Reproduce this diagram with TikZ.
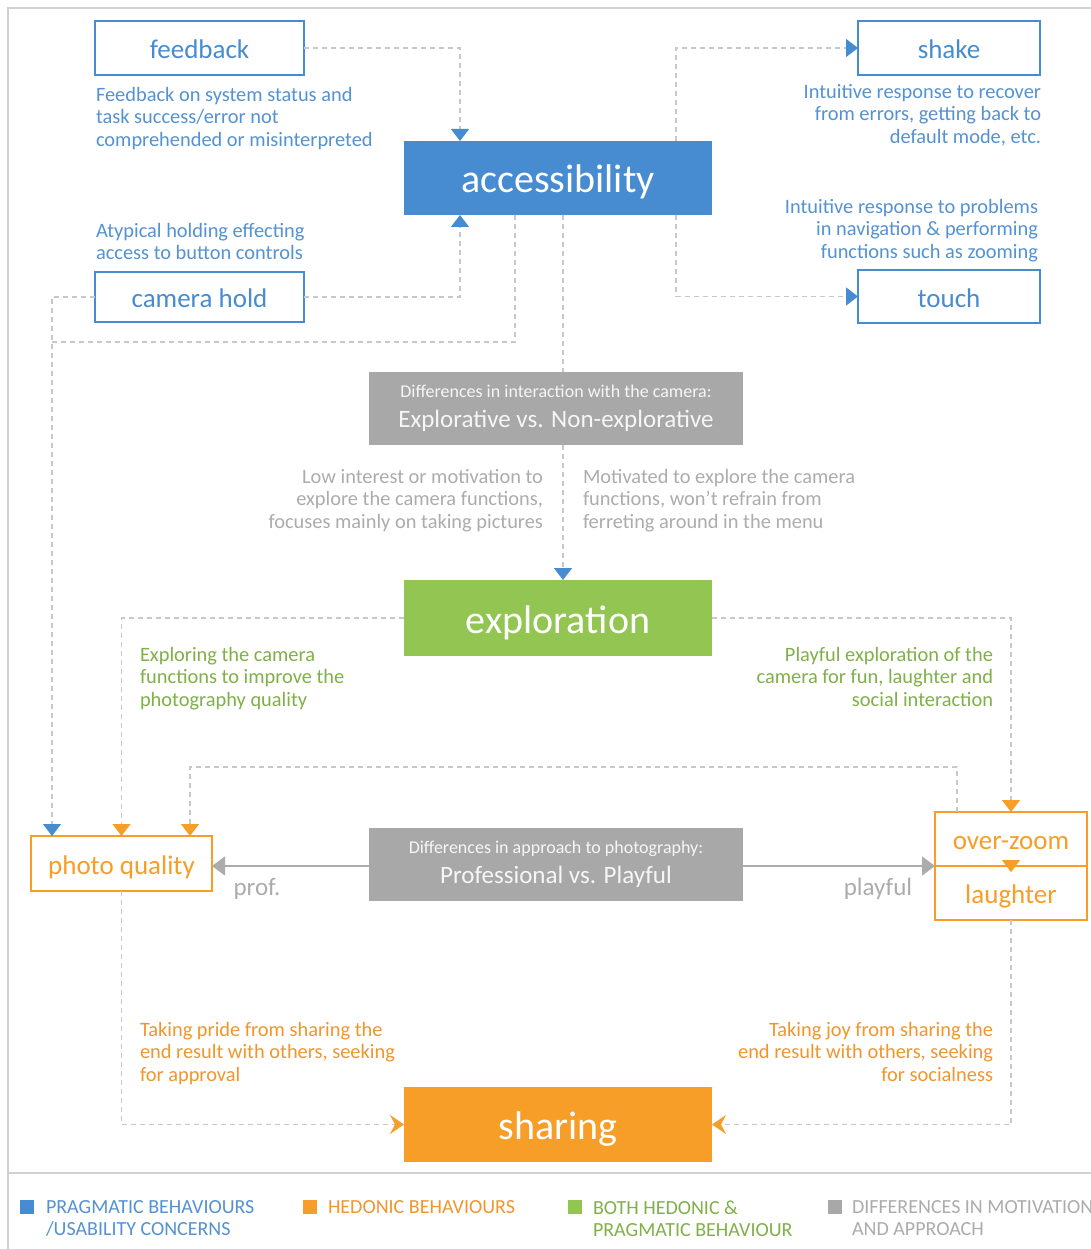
\documentclass[tikz,border=0pt]{standalone}
\usepackage{fontspec}
\setmainfont{Carlito}
\usetikzlibrary{arrows.meta,calc}

\definecolor{blueC}{RGB}{71,140,208}
\definecolor{blueT}{RGB}{84,146,210}
\definecolor{greenC}{RGB}{146,197,81}
\definecolor{greenT}{RGB}{128,176,72}
\definecolor{orangeC}{RGB}{246,158,40}
\definecolor{orangeT}{RGB}{240,150,45}
\definecolor{grayBox}{RGB}{168,168,168}
\definecolor{grayT}{RGB}{172,172,172}
\definecolor{dashC}{RGB}{200,200,200}
\definecolor{frameC}{RGB}{208,208,208}
\definecolor{boxText}{RGB}{246,246,246}

\begin{document}
\begin{tikzpicture}[x=1pt,y=-1pt,
  every node/.style={inner sep=0pt, outer sep=0pt},
  outlinebox/.style={draw=#1, line width=2pt, fill=white, text=#1,
    text height=21pt, text depth=0pt, font=\fontsize{27}{30}\selectfont},
  solidbox/.style={fill=#1, text=white, text height=32pt, text depth=2pt,
    font=\fontsize{40}{44}\selectfont},
  diffbox/.style={fill=grayBox, text=boxText, align=center,
    minimum width=374pt, minimum height=73pt, font=\fontsize{25}{30}\selectfont},
  desc/.style={text=#1, font=\fontsize{20.4}{22.5}\selectfont},
  legend/.style={text=#1, align=left, anchor=north west, font=\fontsize{20}{22}\selectfont},
  swatch/.style={fill=#1, minimum width=14pt, minimum height=14pt},
  dl/.style={draw=dashC, line width=1.3pt, dash pattern=on 5pt off 4pt},
  btip/.style={-{Triangle[width=18pt,length=12pt,color=blueC]}},
  otip/.style={-{Triangle[width=18pt,length=12pt,color=orangeC]}},
  stip/.style={-{Stealth[width=19pt,length=14pt,inset=5pt,color=orangeC]}},
  gline/.style={draw=grayT, line width=1.5pt, -{Triangle[width=19pt,length=13pt,color=grayT]}},
  edgelabel/.style={text=grayT, font=\fontsize{25}{28}\selectfont},
]
\useasboundingbox (0,0) rectangle (1091,1249);
\fill[white] (0,0) rectangle (1091,1249);

% frame and legend separator
\draw[frameC, line width=2.5pt] (1091,8) -- (8,8) -- (8,1249);
\draw[frameC, line width=2.5pt] (8,1173) -- (1091,1173);

% main boxes
\node[outlinebox=blueC, minimum width=209pt, minimum height=54pt] (fb) at (199.5,48) {feedback};
\node[outlinebox=blueC, minimum width=209pt, minimum height=50pt] (ch) at (199.5,297) {camera hold};
\node[outlinebox=blueC, minimum width=182pt, minimum height=54pt] (sh) at (949,48) {shake};
\node[outlinebox=blueC, minimum width=182pt, minimum height=53pt] (tc) at (949,296.5) {touch};
\node[solidbox=blueC, minimum width=308pt, minimum height=74pt] (acc) at (558,178) {accessibility};
\node[diffbox] (d1) at (556,408.5)
  {{\fontsize{18}{30}\selectfont Differences in interaction with the camera:}\\Explorative vs. Non-explorative};
\node[solidbox=greenC, minimum width=308pt, minimum height=76pt] (ex) at (558,618) {exploration};
\node[outlinebox=orangeC, minimum width=181pt, minimum height=55pt] (pq) at (121.5,863.5) {photo quality};
\node[diffbox] (d2) at (556,864.5)
  {{\fontsize{18}{30}\selectfont Differences in approach to photography:}\\Professional vs. Playful};
\node[outlinebox=orangeC, minimum width=152pt, minimum height=54pt] (oz) at (1011,839) {over-zoom};
\node[outlinebox=orangeC, minimum width=152pt, minimum height=54pt] (lh) at (1011,893) {laughter};
\node[solidbox=orangeC, minimum width=308pt, minimum height=75pt] (sr) at (558,1124.5) {sharing};

% descriptions
\node[desc=blueT, align=left, anchor=north west] (tfb) at (96,87)
  {Feedback on system status and\\task success/error not\\comprehended or misinterpreted};
\node[desc=blueT, align=left, anchor=north west] (tch) at (96,223)
  {Atypical holding effecting\\access to button controls};
\node[desc=blueT, align=right, anchor=north east] (tsh) at (1041,84)
  {Intuitive response to recover\\from errors, getting back to\\default mode, etc.};
\node[desc=blueT, align=right, anchor=north east] (ttc) at (1038,199)
  {Intuitive response to problems\\in navigation \& performing\\functions such as zooming};
\node[desc=grayT, align=right, anchor=north east] (tlow) at (543,469)
  {Low interest or motivation to\\explore the camera functions,\\focuses mainly on taking pictures};
\node[desc=grayT, align=left, anchor=north west] (tmot) at (583,469)
  {Motivated to explore the camera\\functions, won’t refrain from\\ferreting around in the menu};
\node[desc=greenT, align=left, anchor=north west] (tex1) at (140,647)
  {Exploring the camera\\functions to improve the\\photography quality};
\node[desc=greenT, align=right, anchor=north east] (tex2) at (993,647)
  {Playful exploration of the\\camera for fun, laughter and\\social interaction};
\node[desc=orangeT, align=left, anchor=north west] (tsr1) at (140,1022)
  {Taking pride from sharing the\\end result with others, seeking\\for approval};
\node[desc=orangeT, align=right, anchor=north east] (tsr2) at (993,1022)
  {Taking joy from sharing the\\end result with others, seeking\\for socialness};

% accessibility connectors
\coordinate (j1) at (52,342);
\draw[dl, btip] (fb.east) -| ([xshift=-98]acc.north);
\draw[dl, btip] (ch.east) -| ([xshift=-98]acc.south);
\draw[dl, btip] ([xshift=118]acc.north) |- (sh.west);
\draw[dl, btip] ([xshift=118]acc.south) |- (tc.west);
\draw[dl, btip] (ch.west) -| ([xshift=-69.5]pq.north);
\draw[dl] ([xshift=-43]acc.south) |- (j1);

% interaction difference and exploration
\draw[dl] ([xshift=5]acc.south) -- ([xshift=5]acc.south |- d1.north);
\draw[dl, btip] ([xshift=5]ex.north |- d1.south) -- ([xshift=5]ex.north);
\draw[dl, otip] (ex.west) -| (pq.north);
\draw[dl, otip] (ex.east) -| (oz.north);
\draw[dl, otip] ([xshift=-54]oz.north) -- ++(0,-45) -| ([xshift=68.5]pq.north);

% approach to photography
\draw[gline] (d2.west |- oz.south west) -- (pq.east |- oz.south west)
  node[pos=0.713, yshift=-23pt, edgelabel] {prof.};
\draw[gline] (d2.east |- oz.south west) -- (oz.south west)
  node[pos=0.703, yshift=-23pt, edgelabel] {playful};
\draw[orangeC, line width=0.1pt, -{Triangle[width=18pt,length=12pt,color=orangeC]}]
  ([yshift=6]oz.south) -- ([yshift=-6]lh.north);

% sharing
\draw[dl, stip] (pq.south) |- (sr.west);
\draw[dl, stip] (lh.south) |- (sr.east);

% legend
\node[swatch=blueC] (k1) at (27,1207) {};
\node[legend=blueT] (l1) at (46,1201) {PRAGMATIC BEHAVIOURS\\/USABILITY CONCERNS};
\node[swatch=orangeC] (k2) at (310,1207) {};
\node[legend=orangeT] (l2) at (328,1201) {HEDONIC BEHAVIOURS};
\node[swatch=greenC] (k3) at (575,1207) {};
\node[legend=greenT] (l3) at (593,1201) {BOTH HEDONIC \&\\PRAGMATIC BEHAVIOUR};
\node[swatch=grayBox] (k4) at (835,1207) {};
\node[legend=grayT] (l4) at (852,1201) {DIFFERENCES IN MOTIVATION\\AND APPROACH};
\end{tikzpicture}
\end{document}
